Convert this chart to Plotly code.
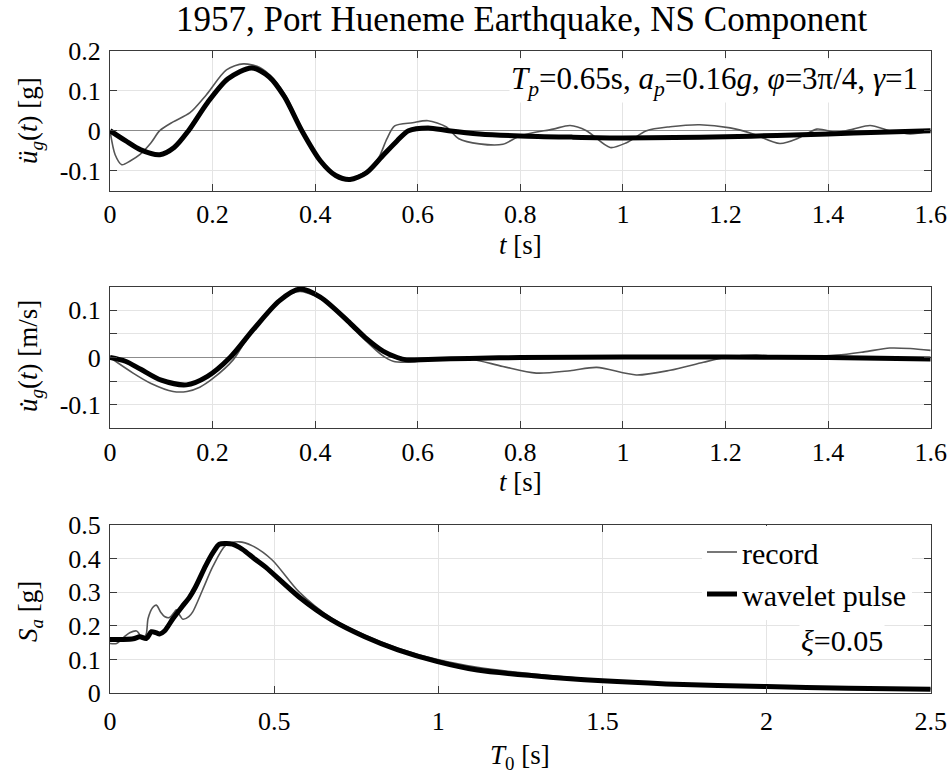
import plotly.graph_objects as go

# ---------------- data ----------------
# Panel 1: ground acceleration [g]
acc_rec_t = [0, 0.01, 0.023, 0.04, 0.058, 0.08, 0.097, 0.123, 0.156, 0.188, 0.227, 0.26, 0.292, 0.32,
             0.345, 0.374, 0.41, 0.44, 0.468, 0.495, 0.512, 0.525, 0.54, 0.555, 0.59, 0.62, 0.655, 0.68, 0.72,
             0.766, 0.799, 0.864, 0.897, 0.929, 0.975, 1.007, 1.046, 1.092, 1.15, 1.209, 1.254, 1.306,
             1.345, 1.378, 1.417, 1.449, 1.482, 1.52, 1.56, 1.6]
acc_rec_v = [0, -0.06, -0.085, -0.075, -0.06, -0.03, 0.0, 0.022, 0.045, 0.09, 0.152, 0.167, 0.158, 0.128,
             0.082, 0.005, -0.072, -0.11, -0.12, -0.105, -0.088, -0.065, -0.02, 0.012, 0.02, 0.025, 0.01, -0.02,
             -0.033, -0.034, -0.013, 0.004, 0.013, 0.0, -0.042, -0.03, 0.0, 0.01, 0.015, 0.007, -0.008,
             -0.032, -0.017, 0.004, -0.004, 0.004, 0.013, 0.0, -0.008, 0.0]
acc_wav_t = [0, 0.03, 0.06, 0.097, 0.125, 0.153, 0.19, 0.23, 0.276, 0.31, 0.34, 0.374, 0.41, 0.44, 0.468,
             0.5, 0.53, 0.56, 0.582, 0.62, 0.66, 0.72, 0.8, 0.9, 1.0, 1.1, 1.2, 1.3, 1.4, 1.5, 1.6]
acc_wav_v = [0, -0.025, -0.048, -0.06, -0.042, 0.0, 0.07, 0.13, 0.157, 0.135, 0.085, 0.0, -0.075, -0.112,
             -0.122, -0.105, -0.065, -0.025, 0.0, 0.007, 0.0, -0.008, -0.013, -0.016, -0.018, -0.017,
             -0.015, -0.012, -0.008, -0.004, 0.0]

# Panel 2: ground velocity [m/s]
vel_rec_t = [0, 0.045, 0.08, 0.123, 0.15, 0.175, 0.2, 0.24, 0.27, 0.305, 0.34, 0.37, 0.4, 0.435, 0.47,
             0.5, 0.53, 0.552, 0.575, 0.6, 0.65, 0.702, 0.766, 0.831, 0.897, 0.949, 1.026, 1.092, 1.157,
             1.2, 1.26, 1.319, 1.417, 1.47, 1.52, 1.56, 1.6]
vel_rec_v = [0, -0.033, -0.055, -0.072, -0.072, -0.063, -0.045, -0.005, 0.045, 0.092, 0.128, 0.14, 0.13,
             0.105, 0.066, 0.034, 0.005, -0.008, -0.01, -0.008, -0.003, -0.003, -0.019, -0.033, -0.028,
             -0.021, -0.037, -0.027, -0.01, 0.0, 0.005, 0.0, 0.005, 0.012, 0.02, 0.019, 0.015]
vel_wav_t = [0, 0.03, 0.06, 0.1, 0.149, 0.19, 0.234, 0.28, 0.33, 0.37, 0.41, 0.468, 0.5, 0.533, 0.56,
             0.578, 0.62, 0.7, 0.8, 1.0, 1.2, 1.4, 1.6]
vel_wav_v = [0, -0.008, -0.025, -0.048, -0.058, -0.04, 0.0, 0.06, 0.12, 0.145, 0.128, 0.073, 0.04, 0.013,
             0.0, -0.005, -0.004, -0.002, 0.0, 0.001, 0.001, 0.0, -0.003]

# Panel 3: acceleration response spectrum [g]
sa_rec_T = [0, 0.02, 0.04, 0.06, 0.081, 0.1, 0.11, 0.116, 0.13, 0.141, 0.155, 0.166, 0.181, 0.195, 0.202,
            0.215, 0.222, 0.24, 0.252, 0.282, 0.313, 0.353, 0.393, 0.434, 0.494, 0.575, 0.675, 0.776,
            0.877, 0.998, 1.119, 1.29, 1.5, 1.694, 2.0, 2.25, 2.5]
sa_rec_v = [0.148, 0.148, 0.165, 0.18, 0.185, 0.163, 0.175, 0.222, 0.255, 0.262, 0.24, 0.228, 0.225, 0.24,
            0.248, 0.228, 0.22, 0.228, 0.242, 0.307, 0.376, 0.44, 0.45, 0.438, 0.396, 0.302, 0.223, 0.173,
            0.134, 0.1, 0.077, 0.057, 0.04, 0.03, 0.021, 0.016, 0.013]
sa_wav_T = [0, 0.04, 0.071, 0.091, 0.111, 0.126, 0.14, 0.151, 0.166, 0.192, 0.22, 0.242, 0.26, 0.292,
            0.315, 0.333, 0.355, 0.373, 0.403, 0.44, 0.474, 0.575, 0.675, 0.776, 0.877, 0.998, 1.119,
            1.29, 1.5, 1.694, 2.0, 2.25, 2.5]
sa_wav_v = [0.16, 0.16, 0.162, 0.168, 0.163, 0.183, 0.18, 0.176, 0.185, 0.222, 0.258, 0.285, 0.315, 0.38,
            0.42, 0.443, 0.445, 0.443, 0.428, 0.4, 0.375, 0.287, 0.218, 0.168, 0.129, 0.094, 0.069,
            0.052, 0.037, 0.028, 0.02, 0.015, 0.012]

title_text = "1957, Port Hueneme Earthquake, NS Component"
params_text = "<i>T<sub>p</sub></i>=0.65s, <i>a<sub>p</sub></i>=0.16<i>g</i>, <i>φ</i>=3π/4, <i>γ</i>=1"
damping_text = "<i>ξ</i>=0.05"
legend_names = ["record", "wavelet pulse"]

acc_ticks = [-0.1, 0, 0.1, 0.2]
acc_ticktext = ["-0.1", "0", "0.1", "0.2"]
vel_ticks = [-0.1, -0.05, 0, 0.05, 0.1]
vel_ticktext = ["-0.1", " ", "0", " ", "0.1"]
t_ticks = [0, 0.2, 0.4, 0.6, 0.8, 1.0, 1.2, 1.4, 1.6]
t_ticktext = ["0", "0.2", "0.4", "0.6", "0.8", "1", "1.2", "1.4", "1.6"]
sa_ticks = [0, 0.1, 0.2, 0.3, 0.4, 0.5]
sa_ticktext = ["0", "0.1", "0.2", "0.3", "0.4", "0.5"]
T_ticks = [0, 0.5, 1.0, 1.5, 2.0, 2.5]
T_ticktext = ["0", "0.5", "1", "1.5", "2", "2.5"]

# ---------------- layout helpers ----------------
W, H = 951, 780
FONT = "Liberation Serif"
REC_COLOR = "#555555"
AX_COLOR = "#3a3a3a"
GRID_COLOR = "#e4e4e4"
TICK_FS = 26


def px(x):
    return x / W


def py(y):
    return 1 - y / H


x_dom = [px(110), px(930.7)]
dom1 = [py(190.7), py(50.7)]
dom2 = [py(428.3), py(286.7)]
dom3 = [py(693.3), py(525)]

fig = go.Figure()

rec_line = dict(color=REC_COLOR, width=1.6, shape="spline", smoothing=0.8)
wav_line = dict(color="black", width=5, shape="spline", smoothing=0.8)

fig.add_trace(go.Scatter(x=acc_rec_t, y=acc_rec_v, mode="lines", line=rec_line, showlegend=False,
                         xaxis="x", yaxis="y"))
fig.add_trace(go.Scatter(x=acc_wav_t, y=acc_wav_v, mode="lines", line=wav_line, showlegend=False,
                         xaxis="x", yaxis="y"))
fig.add_trace(go.Scatter(x=vel_rec_t, y=vel_rec_v, mode="lines", line=rec_line, showlegend=False,
                         xaxis="x2", yaxis="y2"))
fig.add_trace(go.Scatter(x=vel_wav_t, y=vel_wav_v, mode="lines", line=wav_line, showlegend=False,
                         xaxis="x2", yaxis="y2"))
fig.add_trace(go.Scatter(x=sa_rec_T, y=sa_rec_v, mode="lines", line=rec_line, name=legend_names[0],
                         legendgroup="a", xaxis="x3", yaxis="y3"))
fig.add_trace(go.Scatter(x=sa_wav_T, y=sa_wav_v, mode="lines", line=wav_line, name=legend_names[1],
                         legendgroup="b", xaxis="x3", yaxis="y3"))

common_ax = dict(showline=True, linecolor=AX_COLOR, linewidth=1, mirror="allticks",
                 ticks="inside", ticklen=7, tickcolor=AX_COLOR, tickwidth=1,
                 showgrid=True, gridcolor=GRID_COLOR, gridwidth=1, automargin=False,
                 tickfont=dict(family=FONT, size=TICK_FS, color="black"))

fig.update_layout(
    width=W, height=H, autosize=False,
    margin=dict(l=0, r=0, t=0, b=0, pad=0),
    paper_bgcolor="white", plot_bgcolor="white",
    font=dict(family=FONT, color="black"),
    xaxis=dict(domain=x_dom, anchor="y", range=[0, 1.6], tickvals=t_ticks, ticktext=t_ticktext,
               zeroline=False, **common_ax),
    yaxis=dict(domain=dom1, anchor="x", range=[-0.15, 0.2], tickvals=acc_ticks, ticktext=acc_ticktext,
               zeroline=True, zerolinecolor="#8c8c8c", zerolinewidth=1, ticklabelstandoff=3, **common_ax),
    xaxis2=dict(domain=x_dom, anchor="y2", range=[0, 1.6], tickvals=t_ticks, ticktext=t_ticktext,
                zeroline=False, **common_ax),
    yaxis2=dict(domain=dom2, anchor="x2", range=[-0.15, 0.15], tickvals=vel_ticks, ticktext=vel_ticktext,
                zeroline=True, zerolinecolor="#8c8c8c", zerolinewidth=1, ticklabelstandoff=3, **common_ax),
    xaxis3=dict(domain=x_dom, anchor="y3", range=[0, 2.5], tickvals=T_ticks, ticktext=T_ticktext,
                zeroline=False, ticklabelstandoff=4, **common_ax),
    yaxis3=dict(domain=dom3, anchor="x3", range=[0, 0.5], tickvals=sa_ticks, ticktext=sa_ticktext,
                zeroline=False, ticklabelstandoff=3, **common_ax),
    legend=dict(x=px(702), y=py(526), xanchor="left", yanchor="top", bgcolor="white",
                borderwidth=0, font=dict(family=FONT, size=30, color="black"),
                tracegroupgap=0, itemwidth=30),
)

ann = []
# title
ann.append(dict(text=title_text, x=px(521), y=py(19), xref="paper", yref="paper",
                xanchor="center", yanchor="middle", showarrow=False,
                font=dict(family=FONT, size=35, color="black")))
# parameter box
ann.append(dict(text=params_text, x=px(920), y=py(81), xref="paper", yref="paper",
                xanchor="right", yanchor="middle", showarrow=False, bgcolor="white",
                font=dict(family=FONT, size=31, color="black")))
# damping box
ann.append(dict(text=damping_text, x=px(842), y=py(640), xref="paper", yref="paper",
                xanchor="center", yanchor="middle", showarrow=False, bgcolor="white",
                font=dict(family=FONT, size=30, color="black")))
# x-axis titles
for txt, yy in [("<i>t</i> [s]", 245), ("<i>t</i> [s]", 482), ("<i>T</i><sub>0</sub> [s]", 757)]:
    ann.append(dict(text=txt, x=px(520), y=py(yy), xref="paper", yref="paper",
                    xanchor="center", yanchor="middle", showarrow=False,
                    font=dict(family=FONT, size=27, color="black")))
# y-axis titles
for txt, yy in [("<i>ü<sub>g</sub></i>(<i>t</i>) [g]", 121),
                ("<i>u\u0307<sub>g</sub></i>(<i>t</i>) [m/s]", 356),
                ("<i>S<sub>a</sub></i> [g]", 612)]:
    ann.append(dict(text=txt, x=px(30), y=py(yy), xref="paper", yref="paper",
                    xanchor="center", yanchor="middle", showarrow=False, textangle=-90,
                    font=dict(family=FONT, size=27, color="black")))
fig.update_layout(annotations=ann)

fig.write_html("out.html", config={"responsive": False},
               post_script="document.body.style.margin='0';document.body.style.overflow='hidden';")
